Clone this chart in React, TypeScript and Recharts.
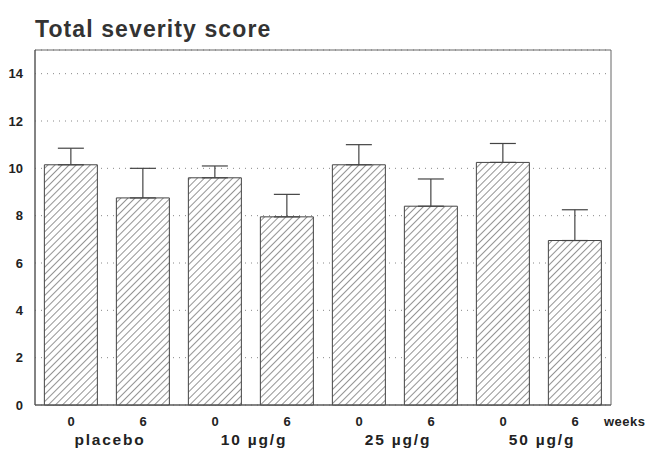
import React from 'react';
import { BarChart, Bar, XAxis, YAxis, CartesianGrid, ErrorBar, ReferenceArea } from 'recharts';

const weeks = ['0', '6', '0', '6', '0', '6', '0', '6'];
const groups = ['placebo', '10 µg/g', '25 µg/g', '50 µg/g'];
const means = [10.15, 8.75, 9.6, 7.95, 10.15, 8.4, 10.25, 6.95];
const upperErr = [0.7, 1.25, 0.5, 0.95, 0.85, 1.15, 0.8, 1.3];
const yTicks = [0, 2, 4, 6, 8, 10, 12, 14];

const data = means.map((m, i) => ({
  key: `b${i}`,
  week: weeks[i],
  group: groups[Math.floor(i / 2)],
  score: m,
  err: [0, upperErr[i]],
}));

const FONT = '"Liberation Sans", Arial, sans-serif';

const WeekTick = (props: any) => {
  const { x, y, index } = props;
  const d = data[index];
  return (
    <g>
      <text x={x} y={y + 13} textAnchor="middle" fontFamily={FONT} fontWeight="bold" fontSize={13} fill="#222">
        {d.week}
      </text>
      {index % 2 === 1 && (
        <text x={x - 33} y={y + 32} textAnchor="middle" fontFamily={FONT} fontWeight="bold" fontSize={15.5} fill="#222" letterSpacing={1.8}>
          {d.group}
        </text>
      )}
      {index === data.length - 1 && (
        <text x={x + 29} y={y + 13} textAnchor="start" fontFamily={FONT} fontWeight="bold" fontSize={13} fill="#222" letterSpacing={0.5}>
          weeks
        </text>
      )}
    </g>
  );
};

export default function App() {
  return (
    <div style={{ position: 'absolute', left: 0, top: 0, width: 645, height: 450, background: '#fff' }}>
      <div style={{ position: 'absolute', left: 35, top: 16, fontFamily: FONT, fontWeight: 'bold', fontSize: 23, color: '#333', letterSpacing: 1.1 }}>
        Total severity score
      </div>
      <BarChart
        width={645}
        height={450}
        data={data}
        margin={{ top: 50, right: 34, bottom: 0, left: 0 }}
        barCategoryGap="13%"
      >
        <defs>
          <pattern id="hatch" width="5" height="5" patternUnits="userSpaceOnUse" patternTransform="rotate(45)">
            <rect width="5" height="5" fill="#fff" />
            <line x1="0" y1="0" x2="0" y2="5" stroke="#3a3a3a" strokeWidth="1.1" />
          </pattern>
        </defs>
        <CartesianGrid horizontal vertical={false} stroke="#888" strokeDasharray="1 5" />
        <XAxis
          dataKey="key"
          height={45}
          tick={<WeekTick />}
          tickLine={false}
          axisLine={{ stroke: '#555' }}
          interval={0}
        />
        <YAxis
          domain={[0, 15]}
          ticks={yTicks}
          width={35}
          tickLine={false}
          axisLine={{ stroke: '#555' }}
          tick={{ fontFamily: FONT, fontWeight: 'bold', fontSize: 13, fill: '#222' }}
          tickMargin={6}
        />
        <ReferenceArea y1={0} y2={15} fill="none" stroke="#666" strokeWidth={1} />
        <Bar dataKey="score" fill="url(#hatch)" stroke="#444" strokeWidth={1} isAnimationActive={false}>
          <ErrorBar dataKey="err" direction="y" width={13} stroke="#444" strokeWidth={1.2} />
        </Bar>
      </BarChart>
    </div>
  );
}
